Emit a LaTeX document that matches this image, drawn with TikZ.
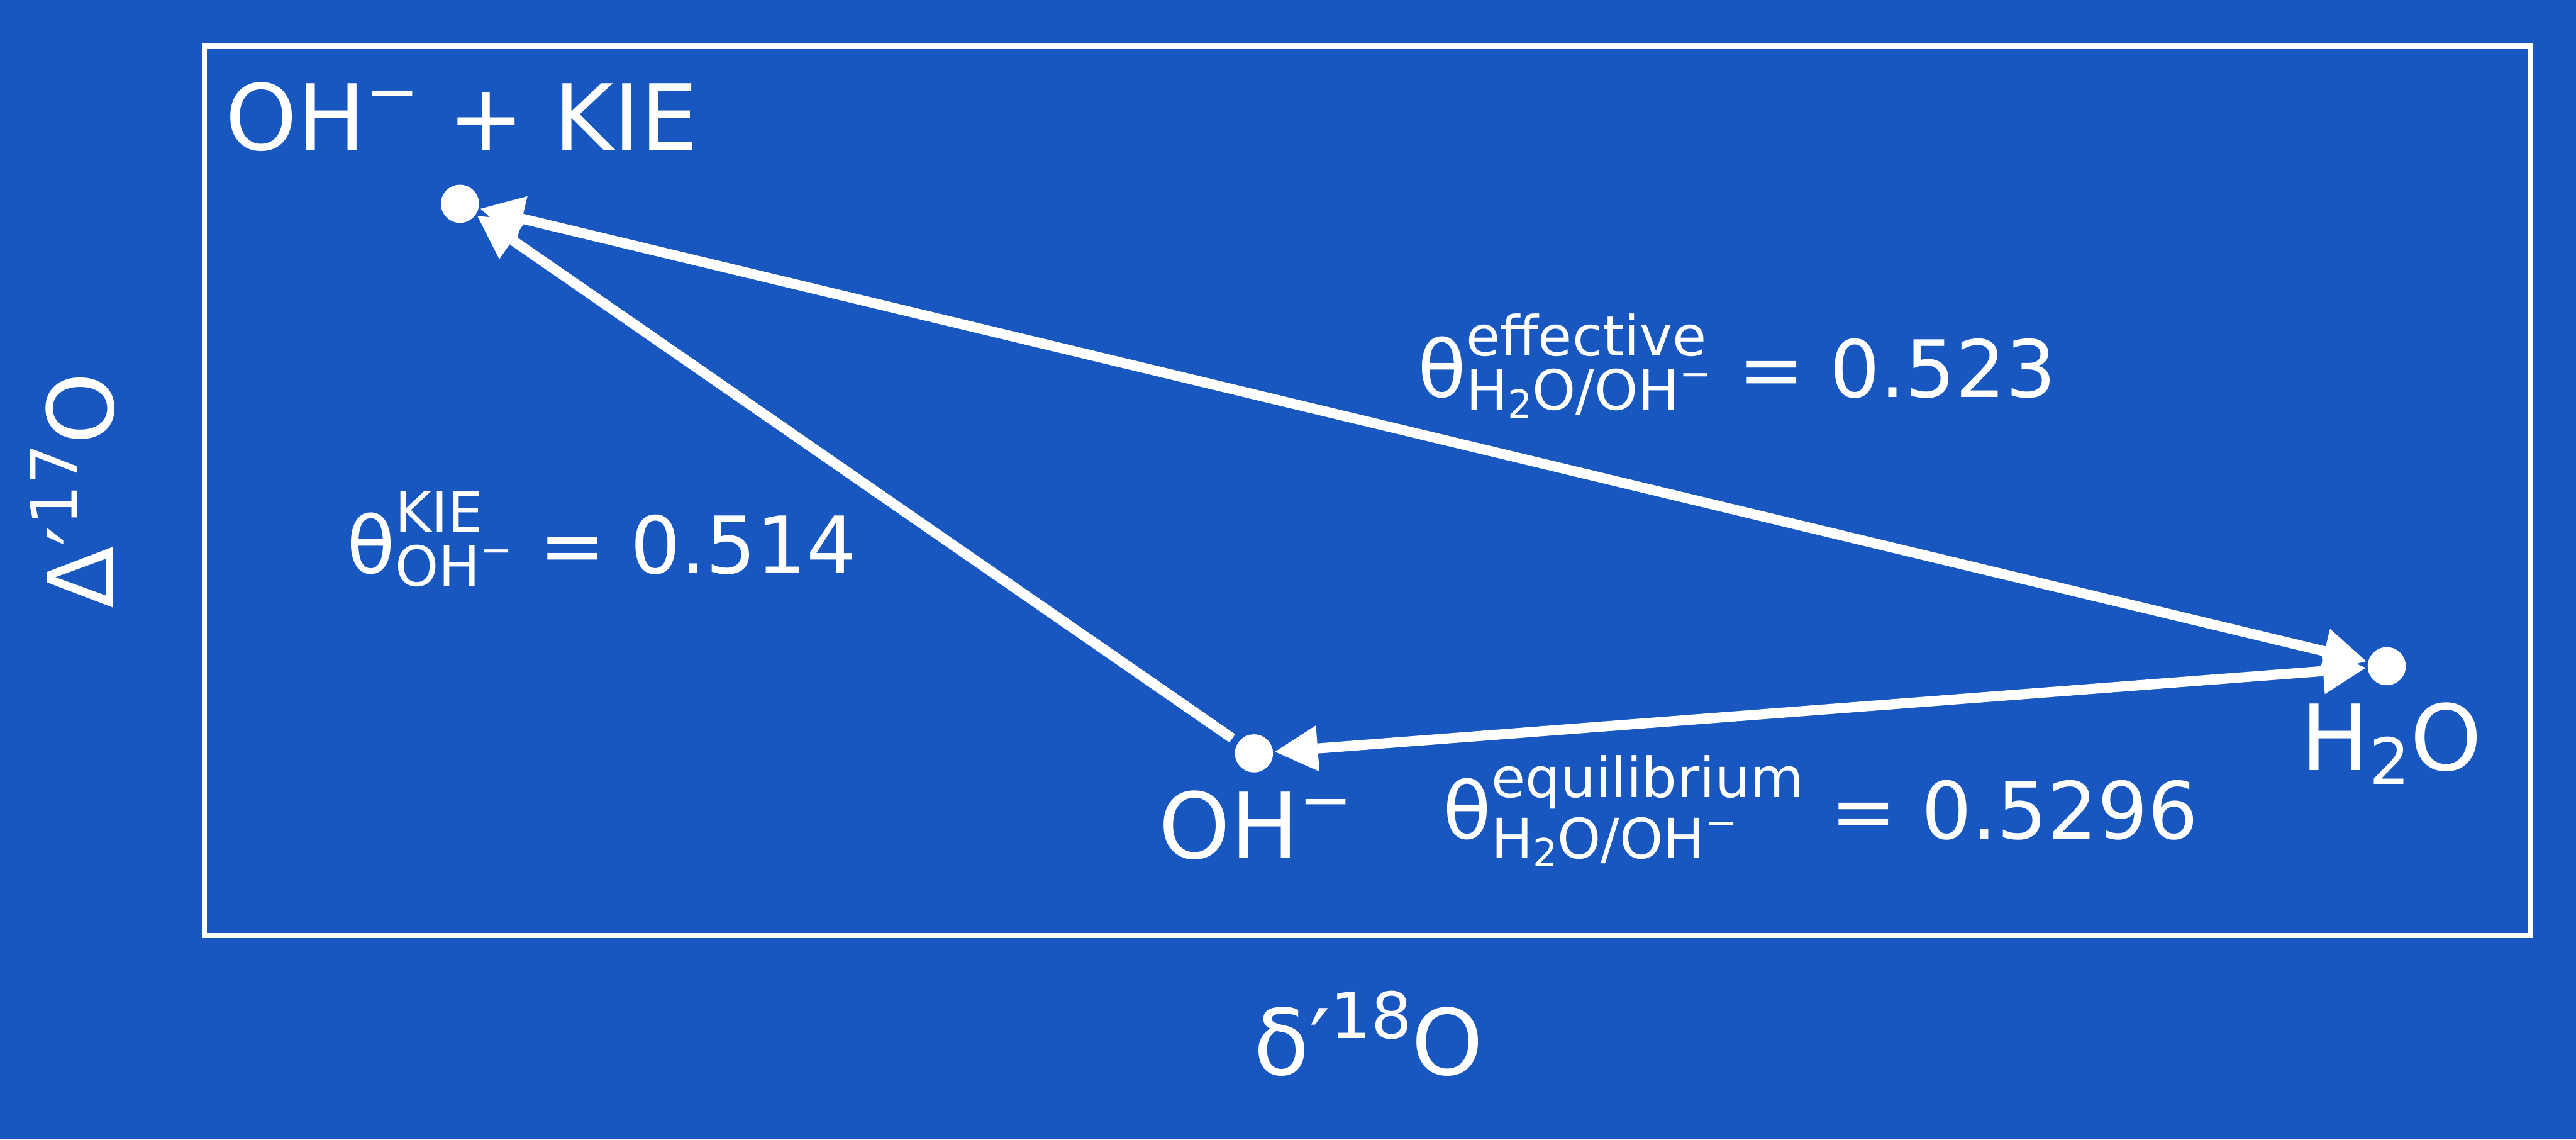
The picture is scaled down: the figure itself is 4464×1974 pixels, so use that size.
\documentclass[tikz,border=0pt]{standalone}
\usepackage{amsmath}
\usepackage{graphicx}
\usepackage{fontspec}
\setmainfont{DejaVu Sans}
\usetikzlibrary{arrows.meta,positioning}
\definecolor{bgblue}{HTML}{1757BF}

\newcommand\upsc[1]{\raisebox{0.4em}{\scalebox{0.7}{#1}}}
\newcommand\dnsc[1]{\raisebox{-0.15em}{\scalebox{0.7}{#1}}}
\newcommand\thlbl[2]{$\text{θ}^{\text{#1}}_{\text{#2}}$}

\begin{document}
\begin{tikzpicture}[x=0.1mm, y=-0.1mm,
    dot/.style={circle, fill=white, inner sep=0pt, minimum size=6.6mm},
    head/.tip={Triangle[length=7.4mm, width=8mm, line width=0pt]},
    arr/.style={-head, line width=1.75mm, white, shorten >=0.3mm, shorten <=1.2mm},
    darr/.style={head-head, line width=1.75mm, white, shorten >=0.3mm, shorten <=0.3mm},
    frame/.style={draw=white, line width=0.9mm},
    lbl/.style={text=white, font=\fontsize{45}{54}\selectfont, inner sep=0pt, anchor=base},
    thl/.style={text=white, font=\fontsize{39}{47}\selectfont, inner sep=0pt, anchor=base}
]
\fill[bgblue] (0,0) rectangle (4464,1974);
\useasboundingbox (0,0) rectangle (4464,1974);
\draw[frame] (354.5,80) rectangle (4384.5,1620.5);

% points
\node[dot] (kie) at (797,353) {};
\node[dot] (oh) at (2173,1305) {};
\node[dot] (h2o) at (4136,1154) {};

% arrows
\draw[arr] (oh) -- (kie);
\draw[darr] (h2o) -- (oh);
\draw[darr] (kie) -- (h2o);

% point labels
\node[lbl] (kielbl) at (800,260) {OH\upsc{−} + KIE};
\node[lbl] (ohlbl) at (2176,1487) {OH\upsc{−}};
\node[lbl] (h2olbl) at (4144,1335) {H\dnsc{2}O};

% slopes
\node[thl] (eff) at (3010,688) {\thlbl{effective}{H\dnsc{2}O/OH\upsc{−}} = 0.523};
\node[thl] (equ) at (3155,1453) {\thlbl{equilibrium}{H\dnsc{2}O/OH\upsc{−}} = 0.5296};
\node[thl] (kin) at (1043,993) {\thlbl{KIE}{OH\upsc{−}} = 0.514};

% axes
\node[lbl] (xlbl) at (2372,1862) {δ′\upsc{18}O};
\node[lbl, rotate=90] (ylbl) at (197,850) {Δ′\upsc{17}O};
\end{tikzpicture}
\end{document}
